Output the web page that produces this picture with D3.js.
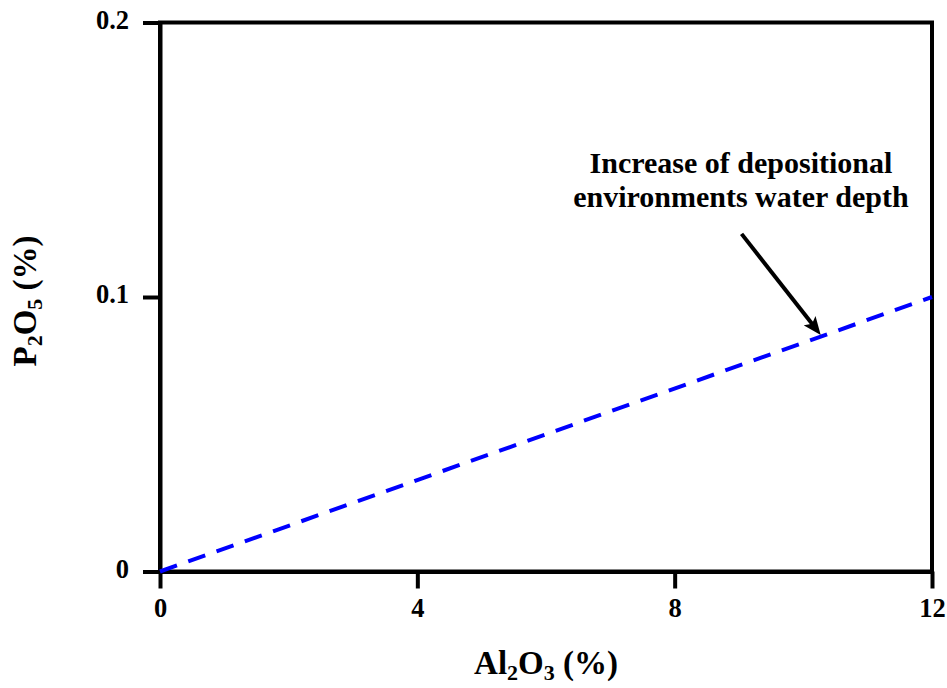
<!DOCTYPE html>
<html>
<head>
<meta charset="utf-8">
<script src="https://cdn.jsdelivr.net/npm/d3@7"></script>
<style>
  html, body { margin: 0; padding: 0; background: #fff; }
  svg { display: block; }
  text { font-family: "Liberation Serif", "Times New Roman", serif; font-weight: bold; fill: #000; }
</style>
</head>
<body>
<svg id="chart" width="947" height="688"></svg>
<script>
// ---- data ----
const xDomain = [0, 12];
const yDomain = [0, 0.2];
const xTicks = [0, 4, 8, 12];
const yTicks = [0, 0.1, 0.2];
const yTickLabels = ["0", "0.1", "0.2"];
const trendX = [0, 12];
const trendY = [0, 0.1];
const arrowFrom = [9.04, 0.1230];
const arrowTo = [10.27, 0.0862];
const noteLines = ["Increase of depositional", "environments water depth"];
const noteAnchor = [9.03, 0.1452];

(function () {
// ---- layout ----
const mLeft = 160, mRight = 932, mTop = 22.5, mBottom = 571.5;
const svg = d3.select("#chart");

const x = d3.scaleLinear().domain(xDomain).range([mLeft, mRight]);
const y = d3.scaleLinear().domain(yDomain).range([mBottom, mTop]);

// frame
svg.append("rect")
  .attr("x", mLeft).attr("y", mTop)
  .attr("width", mRight - mLeft).attr("height", mBottom - mTop)
  .attr("fill", "none").attr("stroke", "#000").attr("stroke-width", 4);

// y axis
const yAxis = d3.axisLeft(y).tickValues(yTicks).tickSize(17).tickSizeOuter(0)
  .tickFormat((d, i) => yTickLabels[i]);
const gy = svg.append("g").attr("transform", `translate(${mLeft},0)`).call(yAxis);
gy.select(".domain").attr("stroke", "#000").attr("stroke-width", 4);
gy.selectAll(".tick line").attr("stroke", "#000").attr("stroke-width", 4);
gy.selectAll(".tick text").attr("x", -31).attr("dy", null).attr("y", 5.5)
  .style("font-size", "26.5px").attr("fill", "#000");

// x axis
const xAxis = d3.axisBottom(x).tickValues(xTicks).tickSize(17).tickSizeOuter(0)
  .tickFormat(d3.format("d"));
const gx = svg.append("g").attr("transform", `translate(0,${mBottom})`).call(xAxis);
gx.select(".domain").attr("stroke", "#000").attr("stroke-width", 4);
gx.selectAll(".tick line").attr("stroke", "#000").attr("stroke-width", 4);
gx.selectAll(".tick text").attr("dy", null).attr("y", 45.5)
  .style("font-size", "26.5px").attr("fill", "#000");

// trend line
const pts = trendX.map((d, i) => [d, trendY[i]]);
svg.append("path")
  .datum(pts)
  .attr("d", d3.line().x(d => x(d[0])).y(d => y(d[1])))
  .attr("fill", "none").attr("stroke", "#0000FF")
  .attr("stroke-width", 4).attr("stroke-dasharray", "18,12");

// arrow
const defs = svg.append("defs");
defs.append("marker")
  .attr("id", "ah").attr("markerUnits", "userSpaceOnUse")
  .attr("viewBox", "0 0 18 15").attr("refX", 18).attr("refY", 7.5)
  .attr("markerWidth", 18).attr("markerHeight", 15).attr("orient", "auto")
  .append("path").attr("d", "M0,0 L18,7.5 L0,15 L4,7.5 Z").attr("fill", "#000");

const ax1 = x(arrowFrom[0]), ay1 = y(arrowFrom[1]);
const ax2 = x(arrowTo[0]), ay2 = y(arrowTo[1]);
const len = Math.hypot(ax2 - ax1, ay2 - ay1);
const ux = (ax2 - ax1) / len, uy = (ay2 - ay1) / len;
svg.append("line")
  .attr("x1", ax1).attr("y1", ay1)
  .attr("x2", ax2 - ux * 8).attr("y2", ay2 - uy * 8)
  .attr("stroke", "#000").attr("stroke-width", 4);
svg.append("path")
  .attr("d", `M${ax2 - ux * 8},${ay2 - uy * 8}L${ax2},${ay2}`)
  .attr("stroke", "none").attr("fill", "none")
  .attr("marker-end", "url(#ah)");

// annotation
const note = svg.append("text")
  .attr("text-anchor", "middle")
  .style("font-size", "30px");
noteLines.forEach((t, i) => {
  note.append("tspan")
    .attr("x", x(noteAnchor[0]))
    .attr("y", y(noteAnchor[1]) + i * 34)
    .text(t);
});

// axis titles
const xt = svg.append("text")
  .attr("x", (mLeft + mRight) / 2).attr("y", 674)
  .attr("text-anchor", "middle").style("font-size", "33px");
xt.append("tspan").text("Al");
xt.append("tspan").attr("dy", 6).style("font-size", "22px").text("2");
xt.append("tspan").attr("dy", -6).text("O");
xt.append("tspan").attr("dy", 6).style("font-size", "22px").text("3");
xt.append("tspan").attr("dy", -6).text(" (%)");

const yt = svg.append("text")
  .attr("transform", `translate(36,${(mTop + mBottom) / 2 + 4}) rotate(-90)`)
  .attr("text-anchor", "middle").style("font-size", "33px");
yt.append("tspan").text("P");
yt.append("tspan").attr("dy", 6).style("font-size", "22px").text("2");
yt.append("tspan").attr("dy", -6).text("O");
yt.append("tspan").attr("dy", 6).style("font-size", "22px").text("5");
yt.append("tspan").attr("dy", -6).text(" (%)");
})();
</script>
</body>
</html>
